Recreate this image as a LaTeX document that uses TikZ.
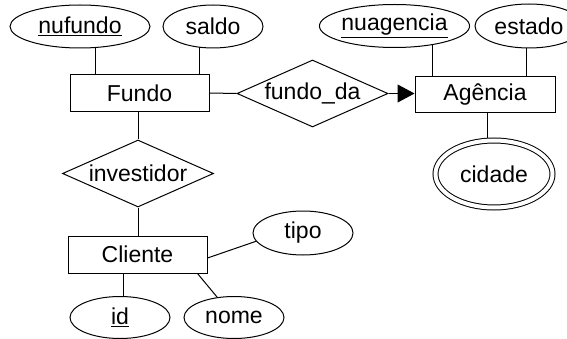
\documentclass[tikz,border=0pt]{standalone}
\usepackage{fontspec}
\setmainfont{Liberation Sans}
\usetikzlibrary{shapes.geometric,arrows.meta,backgrounds}
\begin{document}
\begin{tikzpicture}[x=1pt,y=-1pt,
  every node/.style={font=\fontsize{23}{27}\selectfont, text=black, inner sep=0pt},
  attr/.style={ellipse,draw,fill=white,line width=1pt},
  ent/.style={rectangle,draw,fill=white,line width=1pt},
  rel/.style={diamond,draw,fill=white,line width=1pt,shape aspect=2.25,minimum width=151pt,minimum height=67pt},
  conn/.style={line width=1pt}]
\useasboundingbox (0,0) rectangle (567,339);
% entities
\node[ent,minimum width=139pt,minimum height=37pt] (fundo) at (139.5,93) {Fundo};
\node[ent,minimum width=140pt,minimum height=36pt] (agencia) at (485,95) {Agência};
\node[ent,minimum width=139pt,minimum height=37pt] (cliente) at (137.5,254.5) {Cliente};
% relationships
\node[rel] (fundoda) at (312.5,93.5) {fundo\_da};
\node[rel] (investidor) at (138,173.5) {investidor};
% attributes
\node[attr,minimum width=140pt,minimum height=43pt] (nufundo) at (80,26.5) {\underline{nufundo}};
\node[attr,minimum width=100pt,minimum height=43pt] (saldo) at (213,26.5) {saldo};
\node[attr,minimum width=141pt,minimum height=43pt] (nuagencia) at (394.5,26) {\underline{nuagencia}};
\node[attr,minimum width=108pt,minimum height=44pt] (estado) at (529,26) {estado};
\node[attr,double,double distance=4pt,minimum width=117pt,minimum height=67pt] (cidade) at (494,174) {cidade};
\node[attr,minimum width=100pt,minimum height=44pt] (tipo) at (303,233) {tipo};
\node[attr,minimum width=100pt,minimum height=42pt] (id) at (120,317.5) {\underline{id}};
\node[attr,minimum width=100pt,minimum height=42pt] (nome) at (234,317.5) {nome};
% connectors
\begin{scope}[on background layer]
\draw[conn] ([xshift=25.5pt]fundo.north west) -- ([xshift=25.5pt]fundo.north west |- nufundo.center);
\draw[conn] ([xshift=-10pt]fundo.north east) -- ([xshift=-10pt]fundo.north east |- saldo.center);
\draw[conn] ([xshift=18pt]agencia.north west) -- ([xshift=18pt]agencia.north west |- nuagencia.center);
\draw[conn] ([xshift=-29pt]agencia.north east) -- ([xshift=-29pt]agencia.north east |- estado.center);
\draw[conn] ([xshift=2pt]agencia.south) -- ([xshift=2pt]agencia.south |- cidade.center);
\draw[conn] ([xshift=56pt]cliente.south west) -- ([xshift=56pt]cliente.south west |- id.center);
\end{scope}
\draw[conn] (fundo.east) -- (fundoda.west);
\draw[conn,-{Triangle[length=17pt,width=18pt]}] (fundoda.east) -- (fundoda.east -| agencia.west);
\draw[conn] (fundo.south -| investidor.north) -- (investidor.north);
\draw[conn] (investidor.south) -- (investidor.south |- cliente.north);
\draw[conn] ([yshift=-3.5pt]cliente.east) -- (tipo.190);
\draw[conn] ([xshift=-10pt]cliente.south east) -- (nome);
\end{tikzpicture}
\end{document}
